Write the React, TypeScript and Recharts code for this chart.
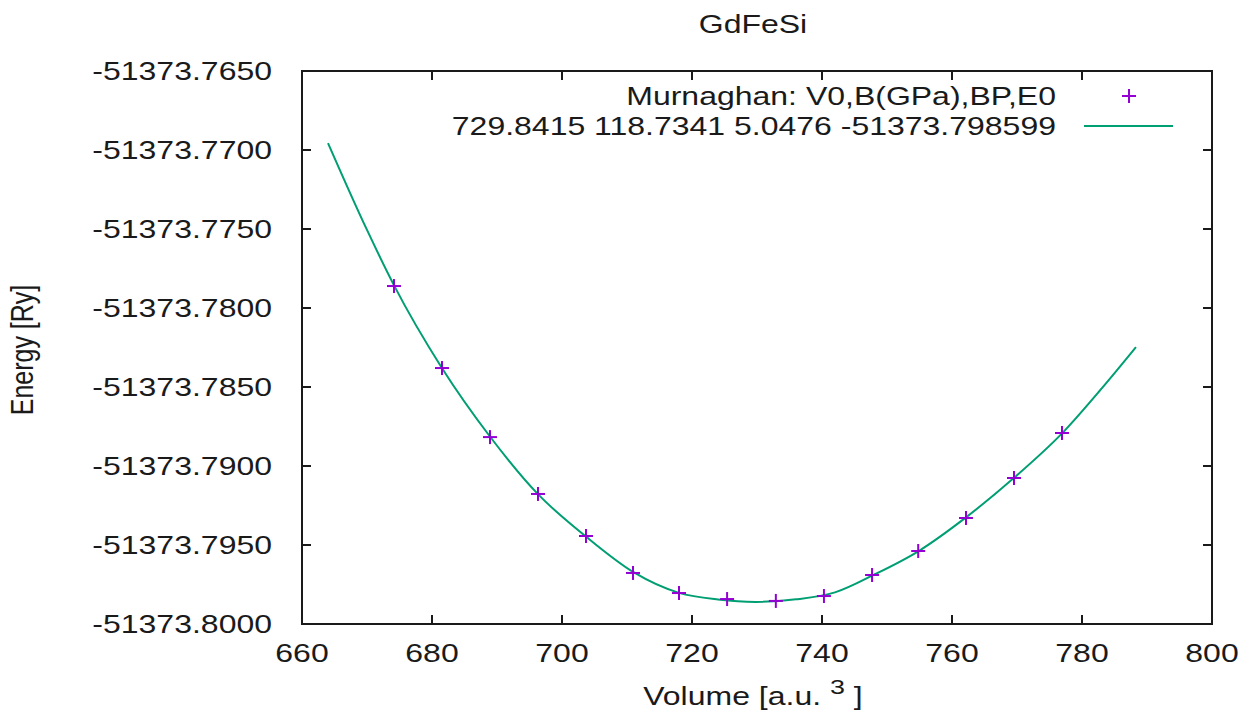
import React from 'react';
import { ComposedChart, Line, Scatter, XAxis, YAxis, ReferenceArea } from 'recharts';

// measured E(V) points (Volume a.u.^3, Energy Ry)
const volumes = [674.15, 681.54, 688.92, 696.31, 703.69, 710.92, 718.0, 725.4, 732.9, 740.3, 747.7, 754.8, 762.15, 769.54, 776.92];
const energies = [
  -51373.77861, -51373.7838, -51373.78817, -51373.79177, -51373.79443, -51373.79677, -51373.79804,
  -51373.79842, -51373.79854, -51373.79823, -51373.7969, -51373.79538, -51373.79329, -51373.79076, -51373.78791,
];

// fitted Murnaghan curve
const fitVolumes = [664.0, 670.0, 674.2, 681.5, 689.0, 696.3, 703.7, 711.0, 718.0, 724.0, 729.8, 736.0, 742.0, 748.0, 755.0, 762.0, 769.5, 777.0, 783.0, 788.3];
const fitEnergies = [
  -51373.76956, -51373.77506, -51373.7786, -51373.78378, -51373.78818, -51373.79178, -51373.79447,
  -51373.79672, -51373.79803, -51373.79845, -51373.7986, -51373.79844, -51373.798, -51373.79688,
  -51373.79535, -51373.7933, -51373.79076, -51373.7879, -51373.7851, -51373.78247,
];

const xTicks = [660, 680, 700, 720, 740, 760, 780, 800];
const yTicks = [-51373.8, -51373.795, -51373.79, -51373.785, -51373.78, -51373.775, -51373.77, -51373.765];

const chartTitle = 'GdFeSi';
const legendHeader = 'Murnaghan: V0,B(GPa),BP,E0';
const legendFit = '729.8415 118.7341 5.0476 -51373.798599';

const points = volumes.map((v, i) => ({ v, e: energies[i] }));
const fit = fitVolumes.map((v, i) => ({ v, e: fitEnergies[i] }));

const W = 1254;
const H = 714;
const LEFT = 302;
const TOP = 71;
const RIGHT = 1212;
const BOTTOM = 624;
const SX = 1.28; // the reference text is stretched sideways
const FONT = '"Liberation Sans", Arial, sans-serif';
const INK = '#1a1a1a';
const PURPLE = '#9400d3';
const GREEN = '#009e73';

function BottomTick({ x, y, payload }: any) {
  return (
    <g>
      <line x1={x} x2={x} y1={y} y2={y - 9} stroke={INK} strokeWidth={2} />
      <line x1={x} x2={x} y1={TOP} y2={TOP + 9} stroke={INK} strokeWidth={2} />
      <text transform={`translate(${x},${y + 38}) scale(${SX},1)`} textAnchor="middle" fontSize={25} fontFamily={FONT} fill={INK}>
        {payload.value}
      </text>
    </g>
  );
}

function LeftTick({ x, y, payload }: any) {
  return (
    <g>
      <line x1={x} x2={x + 9} y1={y} y2={y} stroke={INK} strokeWidth={2} />
      <line x1={RIGHT} x2={RIGHT - 9} y1={y} y2={y} stroke={INK} strokeWidth={2} />
      <text transform={`translate(${x - 30},${y + 9}) scale(${SX},1)`} textAnchor="end" fontSize={25} fontFamily={FONT} fill={INK}>
        {Number(payload.value).toFixed(4)}
      </text>
    </g>
  );
}

function Plus({ cx, cy }: any) {
  return (
    <g>
      <line x1={cx - 7} x2={cx + 7} y1={cy} y2={cy} stroke={PURPLE} strokeWidth={2} />
      <line x1={cx} x2={cx} y1={cy - 7} y2={cy + 7} stroke={PURPLE} strokeWidth={2} />
    </g>
  );
}

export default function App() {
  return (
    <div style={{ position: 'absolute', left: 0, top: 0, width: W, height: H, background: '#fff' }}>
      <ComposedChart
        width={W}
        height={H}
        margin={{ top: TOP, right: W - RIGHT, bottom: 0, left: LEFT - 210 }}
      >
        <XAxis
          dataKey="v"
          type="number"
          domain={[660, 800]}
          ticks={xTicks}
          interval={0}
          height={H - BOTTOM}
          tickSize={0}
          tickMargin={0}
          tickLine={false}
          axisLine={false}
          tick={<BottomTick />}
          allowDataOverflow
        />
        <YAxis
          dataKey="e"
          type="number"
          domain={[-51373.8, -51373.765]}
          ticks={yTicks}
          interval={0}
          width={210}
          tickSize={0}
          tickMargin={0}
          tickLine={false}
          axisLine={false}
          tick={<LeftTick />}
          allowDataOverflow
        />
        <ReferenceArea
          x1={660}
          x2={800}
          y1={-51373.8}
          y2={-51373.765}
          fill="none"
          fillOpacity={0}
          stroke={INK}
          strokeWidth={2}
        />
        <Line
          data={fit}
          dataKey="e"
          type="monotone"
          stroke={GREEN}
          strokeWidth={2}
          dot={false}
          activeDot={false}
          isAnimationActive={false}
        />
        <Scatter data={points} dataKey="e" shape={<Plus />} isAnimationActive={false} />
      </ComposedChart>

      <svg width={W} height={H} style={{ position: 'absolute', left: 0, top: 0, pointerEvents: 'none' }}>
        <text transform={`translate(753,33) scale(${SX},1)`} textAnchor="middle" fontSize={25} fontFamily={FONT} fill={INK}>
          {chartTitle}
        </text>
        <text transform={`translate(33,350) scale(${SX},1) rotate(-90)`} textAnchor="middle" fontSize={25} fontFamily={FONT} fill={INK}>
          Energy [Ry]
        </text>
        <text transform={`translate(753,705) scale(${SX},1)`} textAnchor="middle" fontSize={25} fontFamily={FONT} fill={INK}>
          Volume [a.u.{' '}
          <tspan dy={-11} fontSize={21}>3</tspan>
          <tspan dy={11}> ]</tspan>
        </text>

        <text transform={`translate(1056,105) scale(${SX},1)`} textAnchor="end" fontSize={25} fontFamily={FONT} fill={INK}>
          {legendHeader}
        </text>
        <line x1={1122} x2={1136} y1={96} y2={96} stroke={PURPLE} strokeWidth={2} />
        <line x1={1129} x2={1129} y1={89} y2={103} stroke={PURPLE} strokeWidth={2} />
        <text transform={`translate(1056,135) scale(${SX},1)`} textAnchor="end" fontSize={25} fontFamily={FONT} fill={INK}>
          {legendFit}
        </text>
        <line x1={1084} x2={1173} y1={126} y2={126} stroke={GREEN} strokeWidth={2} />
      </svg>
    </div>
  );
}
